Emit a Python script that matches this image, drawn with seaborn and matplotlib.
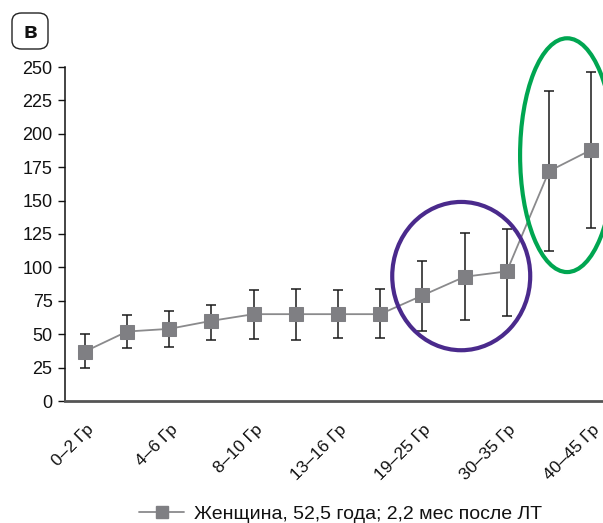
import numpy as np
import pandas as pd
import matplotlib
matplotlib.use("Agg")
import matplotlib.pyplot as plt
import matplotlib.transforms as mtransforms
from matplotlib.patches import Ellipse, FancyBboxPatch
from matplotlib.lines import Line2D
import seaborn as sns

# ---- data ----
dose_index = list(range(13))
tick_labels = ["0–2 Гр", "4–6 Гр", "8–10 Гр", "13–16 Гр", "19–25 Гр", "30–35 Гр", "40–45 Гр"]
mean_vals = [37, 52, 54, 60, 65, 65, 65, 65, 79, 93, 97, 172, 188]
err_low = [24.5, 39.5, 40.5, 46, 46.5, 45.5, 47, 47, 52.5, 60.5, 63.5, 112.5, 129.5]
err_high = [50, 64, 67, 72, 83, 84, 83, 83.5, 105, 126, 129, 232, 246.5]
series_label = "Женщина, 52,5 года; 2,2 мес после ЛТ"
panel_label = "в"

sns.set_theme(style="white")
plt.rcParams["font.family"] = ["Liberation Sans", "DejaVu Sans"]

df = pd.DataFrame({"x": dose_index, "y": mean_vals})

fig = plt.figure(figsize=(6.03, 5.23), dpi=100)
ax = fig.add_axes([65 / 603, 1 - 401 / 523, 1 - 65 / 603, (401 - 67) / 523])

low = np.array(mean_vals) - np.array(err_low)
high = np.array(err_high) - np.array(mean_vals)
ax.errorbar(dose_index, mean_vals, yerr=[low, high], fmt="none", ecolor="#1a1a1a",
            elinewidth=1.1, capsize=3.8, capthick=1.1, zorder=2)
sns.lineplot(data=df, x="x", y="y", ax=ax, color="#8a8a8c", linewidth=1.3,
             marker="s", markersize=10, markerfacecolor="#7f7f83",
             markeredgecolor="#7f7f83", zorder=3, legend=False)

# ellipses highlighting groups
ax.add_patch(Ellipse((dose_index[9] - 0.08, mean_vals[9] + 0.5), width=3.27, height=111,
                     fill=False, edgecolor="#4a2a8c", linewidth=3, clip_on=False, zorder=4))
ax.add_patch(Ellipse((dose_index[11] + 0.43, 184), width=2.23, height=175,
                     fill=False, edgecolor="#00a651", linewidth=3, clip_on=False, zorder=4))

ax.set_xlim(-0.47, 12.28)
ax.set_ylim(0, 250)
ax.set_yticks(np.arange(0, 251, 25))
ax.set_xticks(dose_index[::2])
ax.tick_params(axis="y", direction="out", length=5, width=1, color="#111111",
               labelsize=13, labelcolor="#111111", pad=4, left=True)
ax.tick_params(axis="x", length=0, pad=2)
ax.set_xticklabels(tick_labels, rotation=45, ha="right", rotation_mode="anchor",
                   fontsize=12.5, color="#111111")
offset = mtransforms.ScaledTranslation(1 / 100, -18 / 100, fig.dpi_scale_trans)
for lab in ax.get_xticklabels():
    lab.set_transform(lab.get_transform() + offset)
ax.set_xlabel("")
ax.set_ylabel("")
sns.despine(ax=ax, top=True, right=True)
ax.spines["left"].set_color("#111111")
ax.spines["left"].set_linewidth(1.1)
ax.spines["bottom"].set_color("#555555")
ax.spines["bottom"].set_linewidth(2)
ax.grid(False)

# legend
handle = Line2D([0], [0], color="#8a8a8c", linewidth=1.3, marker="s", markersize=9,
                markerfacecolor="#7f7f83", markeredgecolor="#7f7f83")
fig.legend([handle], [series_label], loc="center", bbox_to_anchor=(0.565, 1 - 514 / 523),
           frameon=False, fontsize=14, handlelength=2.3, handletextpad=0.5,
           labelcolor="#111111", borderpad=0.1)

# panel label
fig.patches.append(FancyBboxPatch((12 / 603, 1 - 49 / 523), 36 / 603, 36 / 523,
                                  boxstyle="round,pad=0,rounding_size=0.016",
                                  transform=fig.transFigure, fill=False,
                                  edgecolor="#222222", linewidth=1, figure=fig))
fig.text(30 / 603, 1 - 32 / 523, panel_label, ha="center", va="center",
         fontsize=16, fontweight="bold", color="#111111")

fig.savefig("out.png", dpi=100)
